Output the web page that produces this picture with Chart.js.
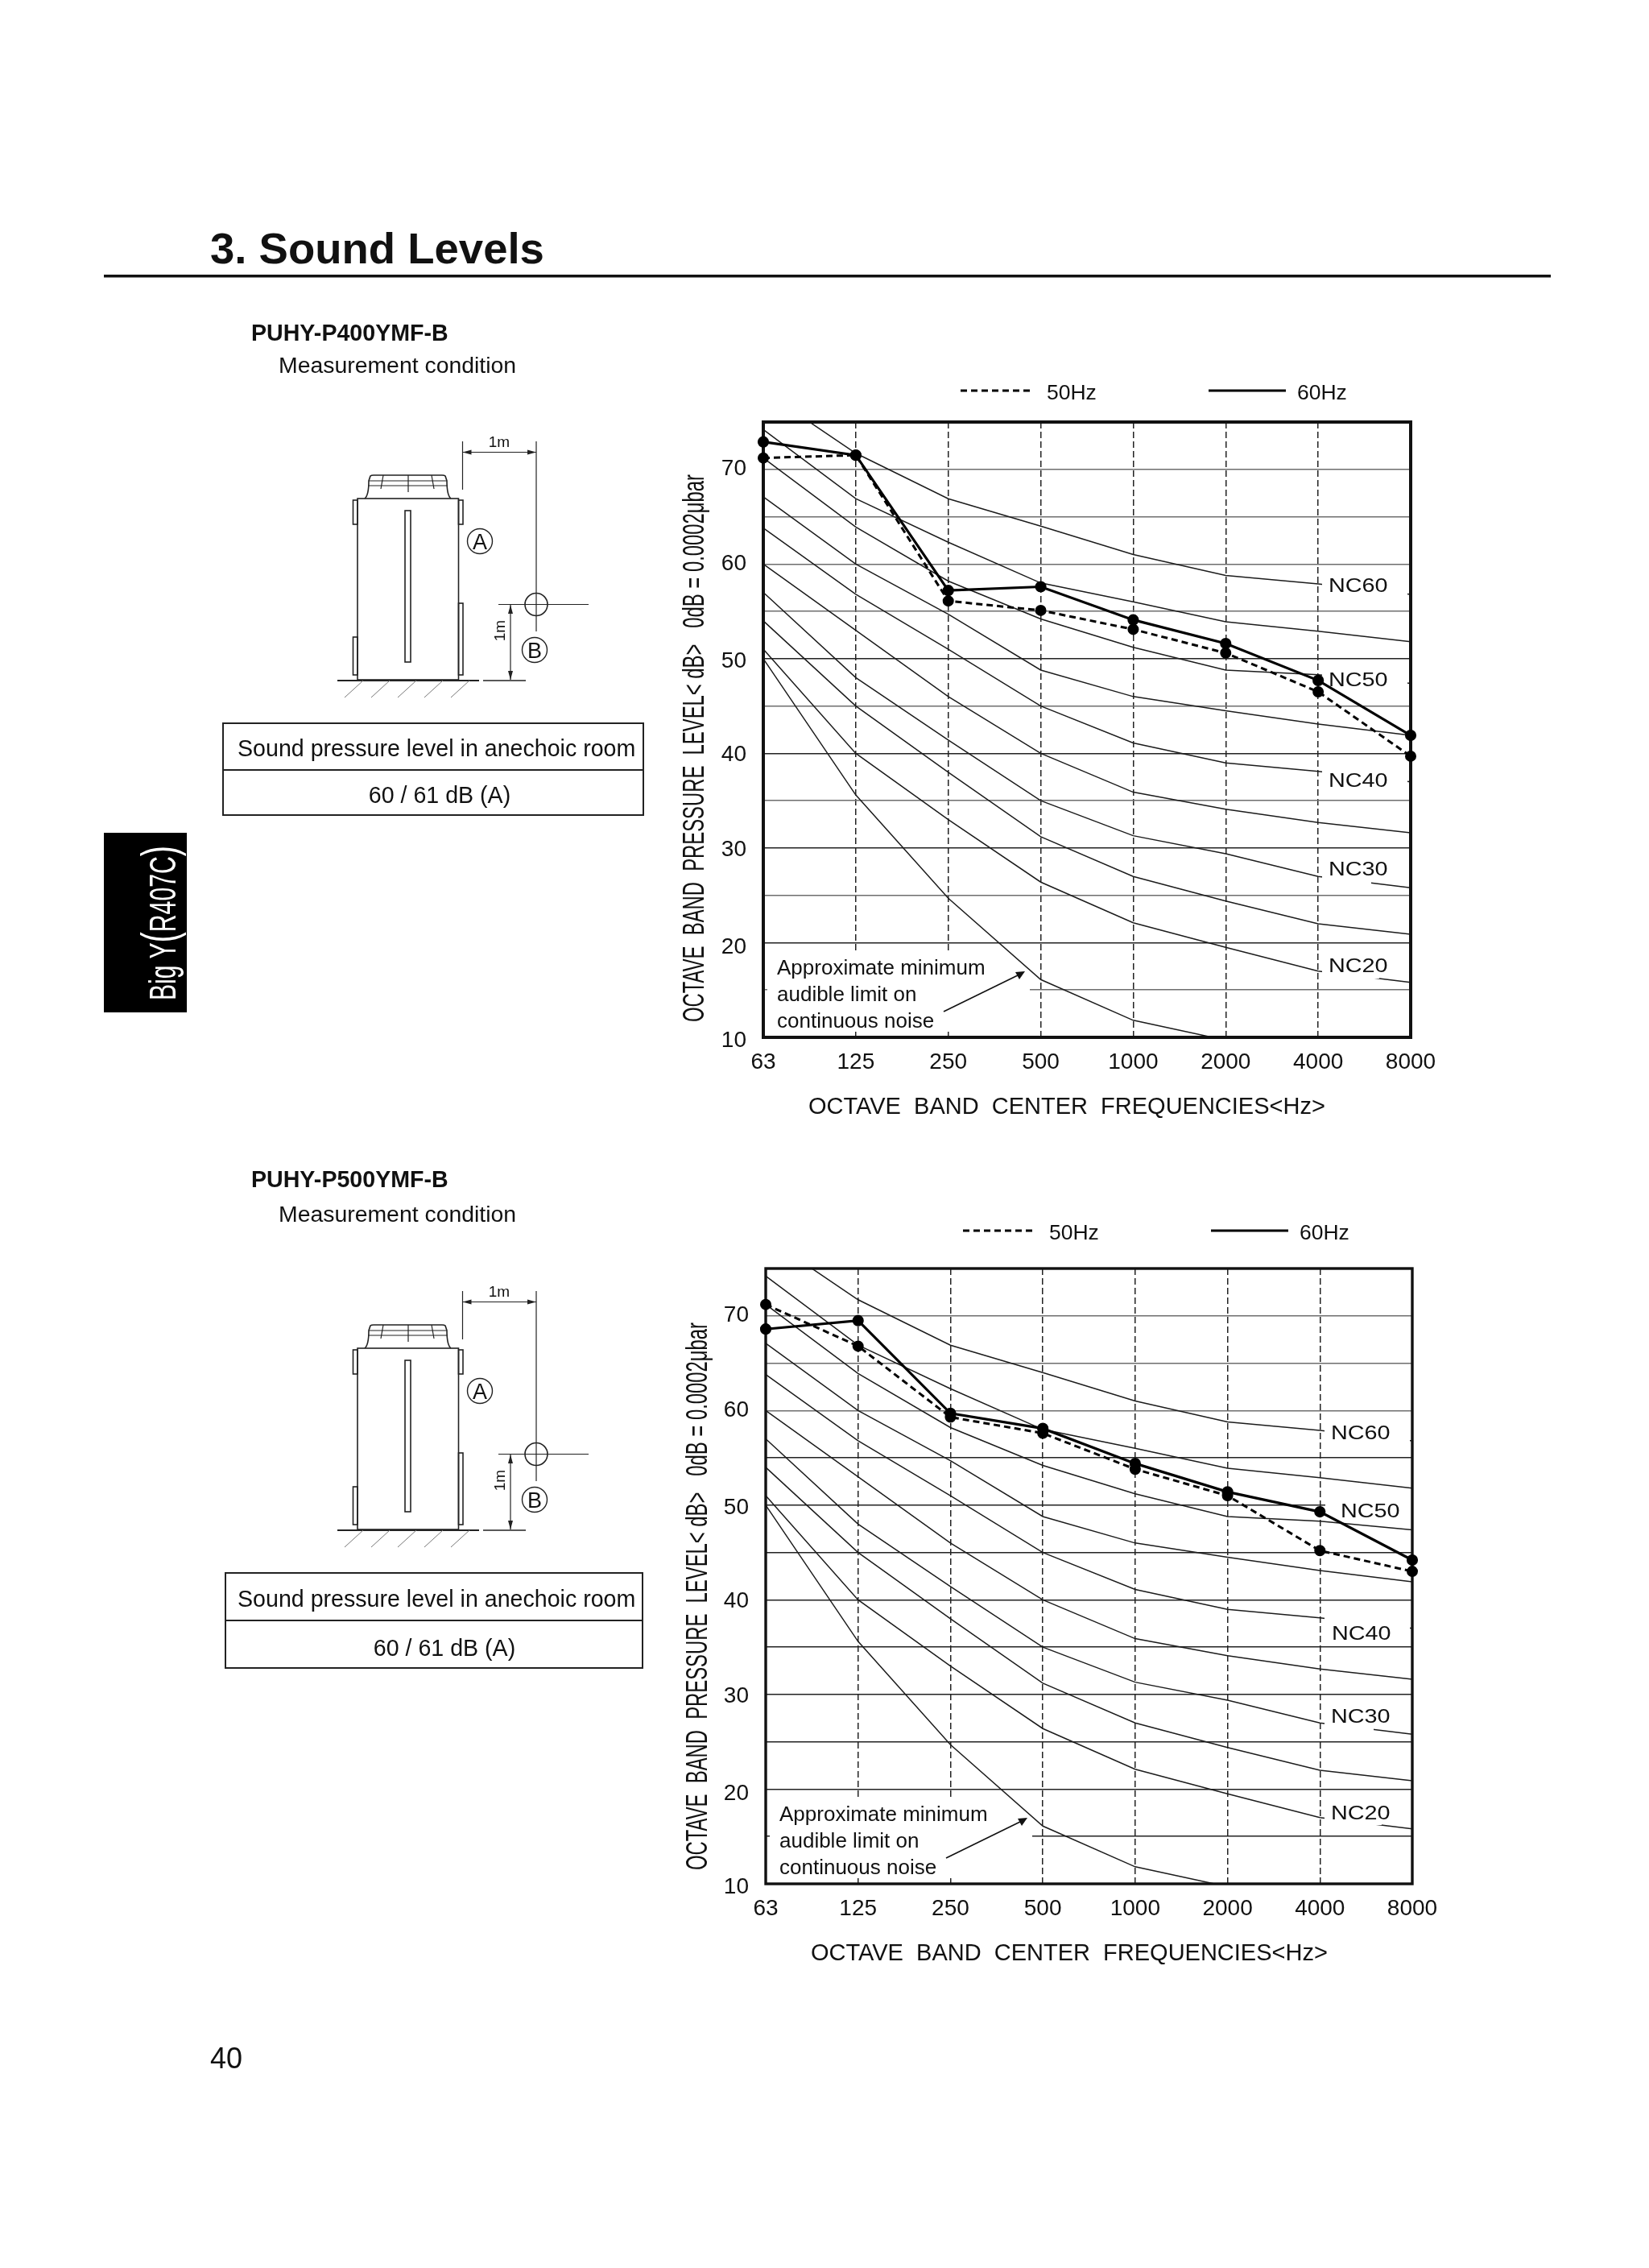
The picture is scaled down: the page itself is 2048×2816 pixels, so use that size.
<!DOCTYPE html>
<html>
<head>
<meta charset="utf-8">
<title>Sound Levels</title>
<script src="https://cdn.jsdelivr.net/npm/chart.js@4"></script>
<style>
  html, body { margin: 0; padding: 0; background: #fff; }
  #page { position: relative; width: 2048px; height: 2816px; overflow: hidden; background: #fff; }
  canvas { position: absolute; }
  #overlay { position: absolute; left: 0; top: 0; }
  text { font-family: "Liberation Sans", Arial, sans-serif; fill: #111; }
</style>
</head>
<body>
<div id="page">
  <canvas id="chart400" width="1000" height="900" style="left:820px;top:460px;width:1000px;height:900px"></canvas>
  <canvas id="chart500" width="1000" height="900" style="left:820px;top:1511px;width:1000px;height:900px"></canvas>
  <svg id="overlay" width="2048" height="2816"></svg>
</div>
<script>
// axis
const frequencies = ["63", "125", "250", "500", "1000", "2000", "4000", "8000"];
const yLabels = [10, 20, 30, 40, 50, 60, 70];

// NC reference curves, same on both charts
const nc60 = [78.3, 71.7, 66.9, 64.0, 61.0, 58.8, 57.9, 56.8];
const nc55 = [74.2, 66.9, 62.3, 58.0, 56.0, 53.9, 52.9, 51.8];
const nc50 = [71.2, 63.9, 58.2, 54.2, 51.2, 48.8, 48.3, 47.4];
const nc45 = [67.1, 60.0, 54.7, 48.8, 46.0, 44.5, 43.1, 41.9];
const nc40 = [63.8, 56.8, 51.0, 45.0, 41.1, 39.0, 38.1, 37.0];
const nc35 = [60.0, 53.0, 46.0, 40.0, 35.9, 34.1, 32.7, 31.6];
const nc30 = [57.0, 48.0, 41.4, 35.0, 31.3, 29.4, 27.0, 25.8];
const nc25 = [54.0, 45.0, 38.0, 31.2, 27.0, 24.4, 22.0, 20.9];
const nc20 = [51.0, 40.0, 33.0, 26.4, 22.1, 19.5, 17.0, 15.8];
const audibleLimit = [50.0, 35.6, 24.7, 16.1, 11.8, 9.7, null, null];

// measured levels
const p400Hz50 = [71.2, 71.5, 56.1, 55.1, 53.1, 50.6, 46.5, 39.7];
const p400Hz60 = [72.9, 71.5, 57.2, 57.6, 54.1, 51.6, 47.7, 41.9];
const p500Hz50 = [71.2, 66.8, 59.3, 57.6, 53.8, 51.0, 45.2, 43.0];
const p500Hz60 = [68.6, 69.5, 59.7, 58.1, 54.4, 51.4, 49.3, 44.2];

const ncCurves = [nc60, nc55, nc50, nc45, nc40, nc35, nc30, nc25, nc20, audibleLimit];
const FONT = '"Liberation Sans", Arial, sans-serif';

// the printed y labels sit a little under their lines, more so at the bottom
const yLabelDrop = { 10: 4, 20: 6, 30: 2, 40: 2, 50: 3, 60: 0, 70: 0 };

// white patches, label spots (px from the plot's top-left corner)
const masks400 = [[694, 188, 106, 32], [694, 306, 106, 27], [694, 427, 106, 33], [694, 544, 61, 30], [694, 663, 71, 28]];
const masks500 = [[694, 188, 106, 32], [695, 286, 109, 22], [694, 427, 106, 38], [694, 544, 61, 30], [694, 663, 71, 28]];
const labels400 = [["NC60", 702, 211], ["NC50", 702, 328], ["NC40", 702, 453], ["NC30", 702, 563], ["NC20", 702, 683]];
const labels500 = [["NC60", 702, 212], ["NC50", 714, 309], ["NC40", 703, 461], ["NC30", 702, 564], ["NC20", 702, 684]];

const decorPlugin = {
  id: "decor",
  afterDatasetDraw(chart, args, opts) {
    if (args.index !== 2) return;  // last NC curve done, bold lines still to come
    const ctx = chart.ctx, a = chart.chartArea;
    ctx.save();
    ctx.fillStyle = "#fff";
    opts.masks.forEach(m => ctx.fillRect(a.left + m[0], a.top + m[1], m[2], m[3]));
    // hole for the note
    ctx.fillRect(a.left + 5, a.top + 658, 275, 99);
    ctx.fillRect(a.left + 280, a.top + 685, 51, 72);

    ctx.strokeStyle = "#111";
    ctx.lineWidth = opts.border;
    ctx.strokeRect(a.left, a.top, a.right - a.left, a.bottom - a.top);

    ctx.fillStyle = "#111";
    ctx.textBaseline = "alphabetic";
    ctx.font = "24px " + FONT;
    opts.labels.forEach(l => {
      ctx.save();
      ctx.translate(a.left + l[1], a.top + l[2]);
      ctx.scale(1.2, 1);
      ctx.fillText(l[0], 0, 0);
      ctx.restore();
    });

    ctx.font = "26px " + FONT;
    ctx.fillText("Approximate minimum", a.left + 17, a.top + 686);
    ctx.fillText("audible limit on", a.left + 17, a.top + 719);
    ctx.fillText("continuous noise", a.left + 17, a.top + 752);

    // arrow
    ctx.lineWidth = 1.6;
    ctx.beginPath();
    ctx.moveTo(a.left + 224, a.top + 732);
    ctx.lineTo(a.left + 318, a.top + 686);
    ctx.stroke();
    ctx.beginPath();
    ctx.moveTo(a.left + 325, a.top + 682);
    ctx.lineTo(a.left + 313, a.top + 683);
    ctx.lineTo(a.left + 318, a.top + 692);
    ctx.closePath();
    ctx.fill();
    ctx.restore();
  },
};

function makeChart(id, hz50, hz60, opts) {
  const curves = ncCurves.map(values => ({
    data: values,
    borderColor: "#1c1c1c",
    borderWidth: 1.5,
    pointRadius: 0,
    tension: 0,
  }));
  return new Chart(document.getElementById(id), {
    type: "line",
    data: {
      labels: frequencies,
      datasets: [
        { label: "60Hz", data: hz60, borderColor: "#000", backgroundColor: "#000", borderWidth: 3.2,
          pointRadius: 5.5, clip: false, tension: 0 },
        { label: "50Hz", data: hz50, borderColor: "#000", backgroundColor: "#000", borderWidth: 3,
          borderDash: [8, 5], pointRadius: 5.5, clip: false, tension: 0 },
        ...curves,
      ],
    },
    plugins: [decorPlugin],
    options: {
      responsive: false,
      animation: false,
      devicePixelRatio: 1,
      layout: { padding: { left: opts.left - 80, right: opts.right, top: opts.top, bottom: 900 - opts.top - 764 - 60 } },
      plugins: {
        legend: { display: false },
        tooltip: { enabled: false },
        decor: { masks: opts.masks, labels: opts.labels, border: opts.border },
      },
      scales: {
        x: {
          offset: false,
          afterFit(s) { s.height = 60; },
          grid: { color: "#222", lineWidth: 1.5, drawTicks: false },
          border: { display: false, dash: [8, 4] },
          ticks: { color: "#111", font: { family: FONT, size: 28 }, padding: 14, maxRotation: 0, autoSkip: false },
        },
        y: {
          min: 10,
          max: 75,
          afterFit(s) { s.width = 80; },
          grid: {
            drawTicks: false,
            lineWidth: 1.5,
            color: c => (opts.darkLines.includes(c.tick.value) ? "#222" : "#6e6e6e"),
          },
          border: { display: false },
          ticks: {
            stepSize: 5,
            autoSkip: false,
            padding: 21,
            color: "#111",
            // empty first line plus a small line height pushes the number down
            font: c => ({ family: FONT, size: 28, lineHeight: (2 * (yLabelDrop[c.tick && c.tick.value] || 0)) + "px" }),
            callback: v => (yLabels.includes(v) ? ["", String(v)] : ""),
          },
        },
      },
    },
  });
}

makeChart("chart400", p400Hz50, p400Hz60, { left: 128, right: 68, top: 64, masks: masks400, labels: labels400, border: 4, darkLines: [50, 40, 30, 20] });
makeChart("chart500", p500Hz50, p500Hz60, { left: 131, right: 66, top: 64, masks: masks500, labels: labels500, border: 3.4, darkLines: [55, 50, 45, 40, 35, 30, 25, 20, 15] });

// everything around the charts: heading, unit sketch, tables
function unitSketch(y) {
  const hatch = [0, 1, 2, 3, 4].map(i =>
    `<line x1="${7 + i * 33}" y1="226" x2="${-16 + i * 33}" y2="247" stroke="#777" stroke-width="1"/>`).join("");
  return `
  <g transform="translate(444 ${y})" fill="none" stroke="#222" stroke-width="1.6">
    <rect x="0" y="0" width="125.5" height="225"/>
    <path d="M9 0 Q14 -4 14 -22 L16 -28 Q17 -29 20 -29 L105 -29 Q108 -29 109 -28 L111 -22 Q111 -4 116 0"/>
    <path d="M14 -22 H111 M13 -16 H112 M32 -29 L29 -12 M63 -29 V-8 M92 -29 L95 -12" stroke-width="1.2"/>
    <rect x="-5.5" y="2" width="5.5" height="30"/>
    <rect x="125.5" y="2" width="5.5" height="30"/>
    <rect x="-5.5" y="172" width="5.5" height="47"/>
    <rect x="125.5" y="130" width="5.5" height="89"/>
    <rect x="59" y="15" width="7" height="188"/>
    <line x1="-25" y1="226" x2="151" y2="226" stroke-width="2"/>
    <line x1="156" y1="226" x2="209" y2="226"/>
    ${hatch}
    <line x1="130.5" y1="-71" x2="130.5" y2="-11" stroke-width="1.2"/>
    <line x1="222" y1="-71" x2="222" y2="165" stroke-width="1.2"/>
    <line x1="130.5" y1="-57.5" x2="222" y2="-57.5" stroke-width="1.2"/>
    <path d="M130.5 -57.5 l11 -3 v6 z M222 -57.5 l-11 -3 v6 z" fill="#222" stroke="none"/>
    <circle cx="222" cy="131.5" r="14"/>
    <line x1="175" y1="131.5" x2="287" y2="131.5" stroke-width="1.2"/>
    <line x1="190" y1="132" x2="190" y2="225" stroke-width="1.2"/>
    <path d="M190 132 l-3 11 h6 z M190 225 l-3 -11 h6 z" fill="#222" stroke="none"/>
    <circle cx="152" cy="53" r="15.5" stroke-width="1.4"/>
    <circle cx="220" cy="188" r="15.5" stroke-width="1.4"/>
  </g>
  <text x="620" y="${y - 64}" font-size="19" text-anchor="middle">1m</text>
  <text x="640" y="${y + 177}" font-size="19" text-anchor="middle" transform="rotate(-90 627 ${y + 177})">1m</text>
  <text x="596" y="${y + 63}" font-size="27" text-anchor="middle">A</text>
  <text x="664" y="${y + 198}" font-size="27" text-anchor="middle">B</text>`;
}

function table(x, w, top, mid, bottom, base1, cx, base2) {
  return `
  <rect x="${x}" y="${top}" width="${w}" height="${bottom - top}" fill="none" stroke="#222" stroke-width="2"/>
  <line x1="${x}" y1="${mid}" x2="${x + w}" y2="${mid}" stroke="#222" stroke-width="2"/>
  <text x="295" y="${base1}" font-size="28.6">Sound pressure level in anechoic room</text>
  <text x="${cx}" y="${base2}" font-size="28.6" text-anchor="middle">60 / 61 dB (A)</text>`;
}

function chartTexts(left, top, xTitleX, yTitleX, yTitleBottom, legendOffset) {
  const ly = top - legendOffset;
  return `
  <text transform="translate(${yTitleX} ${yTitleBottom}) rotate(-90)" font-size="36" textLength="680" lengthAdjust="spacingAndGlyphs" xml:space="preserve">OCTAVE  BAND  PRESSURE  LEVEL&lt; dB&gt;   0dB = 0.0002μbar</text>
  <text x="${xTitleX}" y="${top + 763 + 96}" font-size="29" xml:space="preserve">OCTAVE  BAND  CENTER  FREQUENCIES&lt;Hz&gt;</text>
  <line x1="${left + 245}" y1="${ly}" x2="${left + 336}" y2="${ly}" stroke="#000" stroke-width="3" stroke-dasharray="8 5"/>
  <text x="${left + 352}" y="${ly + 11}" font-size="26.5">50Hz</text>
  <line x1="${left + 553}" y1="${ly}" x2="${left + 649}" y2="${ly}" stroke="#000" stroke-width="3"/>
  <text x="${left + 663}" y="${ly + 11}" font-size="26.5">60Hz</text>`;
}

document.getElementById("overlay").innerHTML = `
  <text x="261" y="327" font-size="54.5" font-weight="bold">3. Sound Levels</text>
  <rect x="129" y="341" width="1797" height="3.5" fill="#111"/>

  <text x="312" y="423" font-size="28.6" font-weight="bold">PUHY-P400YMF-B</text>
  <text x="346" y="463" font-size="28.4">Measurement condition</text>
  ${unitSketch(619)}
  ${table(277, 522, 898, 956, 1012, 939, 546, 997)}

  <rect x="129" y="1034" width="103" height="223" fill="#000"/>
  <text transform="translate(218 1242) rotate(-90)" font-size="47" textLength="192" lengthAdjust="spacingAndGlyphs" style="fill:#fff">Big Y<tspan font-size="62" style="fill:#fff">(</tspan>R407C<tspan font-size="62" style="fill:#fff">)</tspan></text>

  <text x="312" y="1474" font-size="28.6" font-weight="bold">PUHY-P500YMF-B</text>
  <text x="346" y="1517" font-size="28.4">Measurement condition</text>
  ${unitSketch(1674)}
  ${table(280, 518, 1953, 2012, 2071, 1995, 552, 2056)}

  ${chartTexts(948, 524, 1004, 874, 1269, 39)}
  ${chartTexts(951, 1575, 1007, 878, 2322, 47)}

  <text x="261" y="2568" font-size="36">40</text>
`;
</script>
</body>
</html>
